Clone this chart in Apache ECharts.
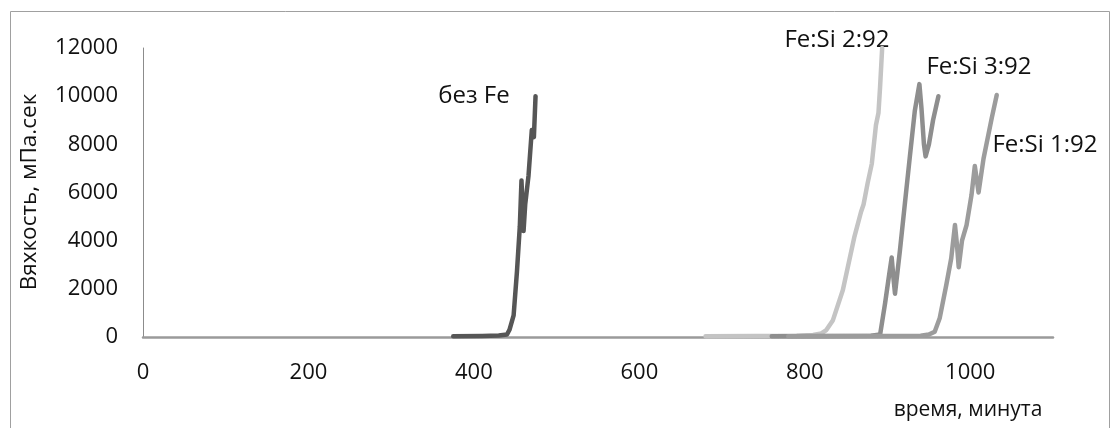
<!DOCTYPE html>
<html>
<head>
<meta charset="utf-8">
<script src="https://cdn.jsdelivr.net/npm/echarts@6/dist/echarts.min.js"></script>
<style>
html,body{margin:0;padding:0;background:#fff;}
#chart{width:1119px;height:428px;}
</style>
</head>
<body>
<div id="chart"></div>
<script>
// ---- data ----
const seriesNames = ['без Fe', 'Fe:Si 2:92', 'Fe:Si 3:92', 'Fe:Si 1:92'];
const xTickLabels = ['0', '200', '400', '600', '800', '1000'];
const yTickLabels = ['0', '2000', '4000', '6000', '8000', '10000', '12000'];
const xAxisTitle = 'время, минута';
const yAxisTitle = 'Вяхкость, мПа.сек';

const bezFeTime = [375, 410, 430, 440, 443, 448, 452, 455.5, 457.5, 460, 462, 466, 470, 472.5, 474.5];
const bezFeVisc = [30, 40, 60, 100, 300, 900, 2700, 4600, 6500, 4400, 5500, 6700, 8600, 8300, 10000];

const fe292Time = [680, 740, 790, 810, 820, 826, 834, 846, 860, 868, 871, 876, 881, 886, 889, 891, 893.5];
const fe292Visc = [30, 40, 50, 80, 150, 290, 700, 1950, 4170, 5200, 5500, 6400, 7200, 8800, 9300, 10400, 12000];

const fe392Time = [760, 830, 880, 891, 897, 902, 905, 907, 909, 912, 915, 921, 927, 933, 938.5, 941, 944, 946, 950, 955, 961.5];
const fe392Visc = [30, 40, 50, 100, 1400, 2600, 3300, 2500, 1800, 2700, 3600, 5550, 7500, 9400, 10500, 9500, 8000, 7500, 8000, 9000, 10000];

const fe192Time = [780, 880, 940, 950, 957, 963, 971, 977, 981.5, 984, 986, 990, 995.5, 1001.5, 1005.5, 1008, 1010, 1016, 1026, 1032];
const fe192Visc = [30, 40, 50, 100, 220, 775, 2160, 3270, 4650, 3800, 2900, 4000, 4650, 5900, 7100, 6500, 6000, 7400, 9100, 10050];

const seriesColors = ['#565656', '#c4c4c4', '#8e8e8e', '#9c9c9c'];

function pairs(t, v) { return t.map((x, i) => [x, v[i]]); }

const FONT = 'Open Sans';
const chart = echarts.init(document.getElementById('chart'), null, {renderer: 'canvas'});

const lineSeries = [
  [bezFeTime, bezFeVisc],
  [fe292Time, fe292Visc],
  [fe392Time, fe392Visc],
  [fe192Time, fe192Visc]
].map((d, i) => ({
  name: seriesNames[i],
  type: 'line',
  data: pairs(d[0], d[1]),
  showSymbol: false,
  symbol: 'none',
  smooth: false,
  clip: true,
  lineStyle: {color: seriesColors[i], width: 4.5, join: 'round', cap: 'round'},
  z: i === 0 ? 5 : 3,
  animation: false
}));

chart.setOption({
  animation: false,
  backgroundColor: '#fff',
  grid: {left: 143, top: 48, right: 66, bottom: 91, containLabel: false},
  xAxis: {
    type: 'value', min: 0, max: 1100, interval: 200,
    axisLine: {show: true, lineStyle: {color: '#9a9a9a', width: 2.5}},
    axisTick: {show: false},
    splitLine: {show: false},
    axisLabel: {
      show: true, showMaxLabel: false, margin: 25,
      fontFamily: FONT, fontSize: 22, color: '#111',
      formatter: v => xTickLabels.includes(String(v)) ? String(v) : ''
    }
  },
  yAxis: {
    type: 'value', min: 0, max: 12000, interval: 2000,
    axisLine: {show: true, lineStyle: {color: '#8c8c8c', width: 1}},
    axisTick: {show: false},
    splitLine: {show: false},
    axisLabel: {
      margin: 25, fontFamily: FONT, fontSize: 22, color: '#111',
      formatter: v => yTickLabels.includes(String(v)) ? String(v) : ''
    }
  },
  series: lineSeries,
  graphic: [
    {type: 'rect', silent: true, z: -1, shape: {x: 10.5, y: 11.5, width: 1099, height: 440},
     style: {fill: 'none', stroke: '#a0a0a0', lineWidth: 1}},
    {type: 'text', x: 30, y: 192, rotation: Math.PI / 2,
     style: {text: yAxisTitle, fontFamily: FONT, fontSize: 22.5, fill: '#111', align: 'center', verticalAlign: 'middle'}},
    {type: 'text', x: 968, y: 410,
     style: {text: xAxisTitle, fontFamily: FONT, fontSize: 21, fill: '#111', align: 'center', verticalAlign: 'middle'}},
    {type: 'text', x: 474, y: 96,
     style: {text: seriesNames[0], fontFamily: FONT, fontSize: 24, fill: '#111', align: 'center', verticalAlign: 'middle'}},
    {type: 'text', x: 837, y: 40,
     style: {text: seriesNames[1], fontFamily: FONT, fontSize: 24, fill: '#111', align: 'center', verticalAlign: 'middle'}},
    {type: 'text', x: 979, y: 67,
     style: {text: seriesNames[2], fontFamily: FONT, fontSize: 24, fill: '#111', align: 'center', verticalAlign: 'middle'}},
    {type: 'text', x: 1045, y: 145,
     style: {text: seriesNames[3], fontFamily: FONT, fontSize: 24, fill: '#111', align: 'center', verticalAlign: 'middle'}}
  ]
});
</script>
</body>
</html>
